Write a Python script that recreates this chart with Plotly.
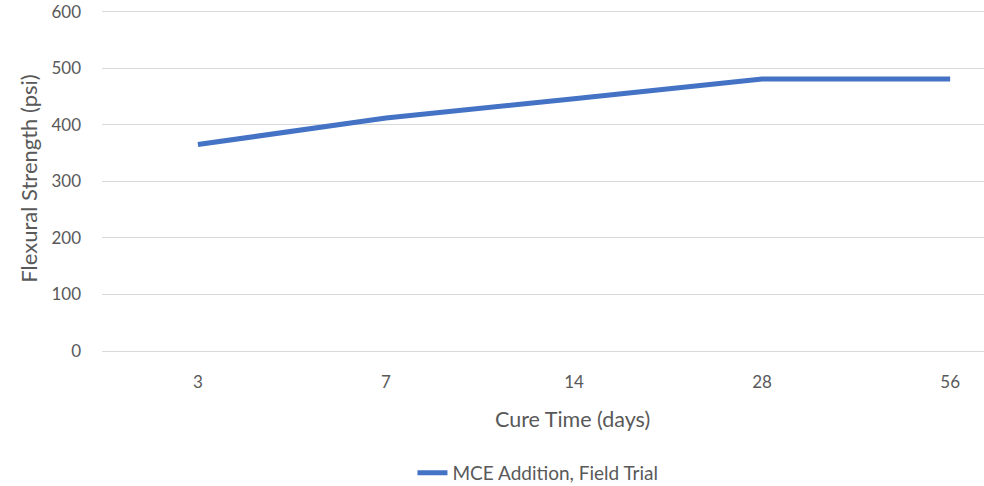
import plotly.graph_objects as go

cure_days = ["3", "7", "14", "28", "56"]
flexural_psi = [365, 412, 446, 481, 481]
series_name = "MCE Addition, Field Trial"
y_ticks = [0, 100, 200, 300, 400, 500, 600]

font_family = "Lato, Open Sans, sans-serif"
text_color = "#595959"
grid_color = "#d9d9d9"

fig = go.Figure()
fig.add_trace(go.Scatter(
    x=cure_days, y=flexural_psi, mode="lines", name=series_name,
    line=dict(color="#4472C4", width=5),
))

fig.update_layout(
    width=984, height=486,
    margin=dict(l=102, r=0, t=6, b=135),
    paper_bgcolor="white", plot_bgcolor="white",
    font=dict(family=font_family, color=text_color, size=17),
    showlegend=True,
    legend=dict(orientation="h", x=0.352, xanchor="left",
                yref="container", y=0.0267, yanchor="middle",
                font=dict(size=19, color=text_color),
                bgcolor="rgba(0,0,0,0)"),
    xaxis=dict(type="category", range=[-0.51, 4.18], showgrid=False, automargin=False,
               showline=True, linecolor=grid_color, linewidth=1,
               ticks="", ticklabelstandoff=16, tickfont=dict(size=17, color=text_color)),
    yaxis=dict(range=[0, 610], tickvals=y_ticks, showgrid=True, gridcolor=grid_color,
               gridwidth=1, zeroline=False, showline=False, ticks="", automargin=False,
               ticklabeloverflow="allow",
               ticklabelstandoff=20, tickfont=dict(size=17, color=text_color),
               title=dict(text="Flexural Strength (psi)", font=dict(size=22, color=text_color),
                          standoff=7)),
    annotations=[dict(text="Cure Time (days)", xref="paper", yref="paper",
                      x=0.534, y=-0.197, xanchor="center", yanchor="middle",
                      showarrow=False, font=dict(size=21.5, color=text_color))],
)

fig.write_html("out.html", config={"displayModeBar": False},
               post_script="document.body.style.margin='0';document.body.style.overflow='hidden';")
